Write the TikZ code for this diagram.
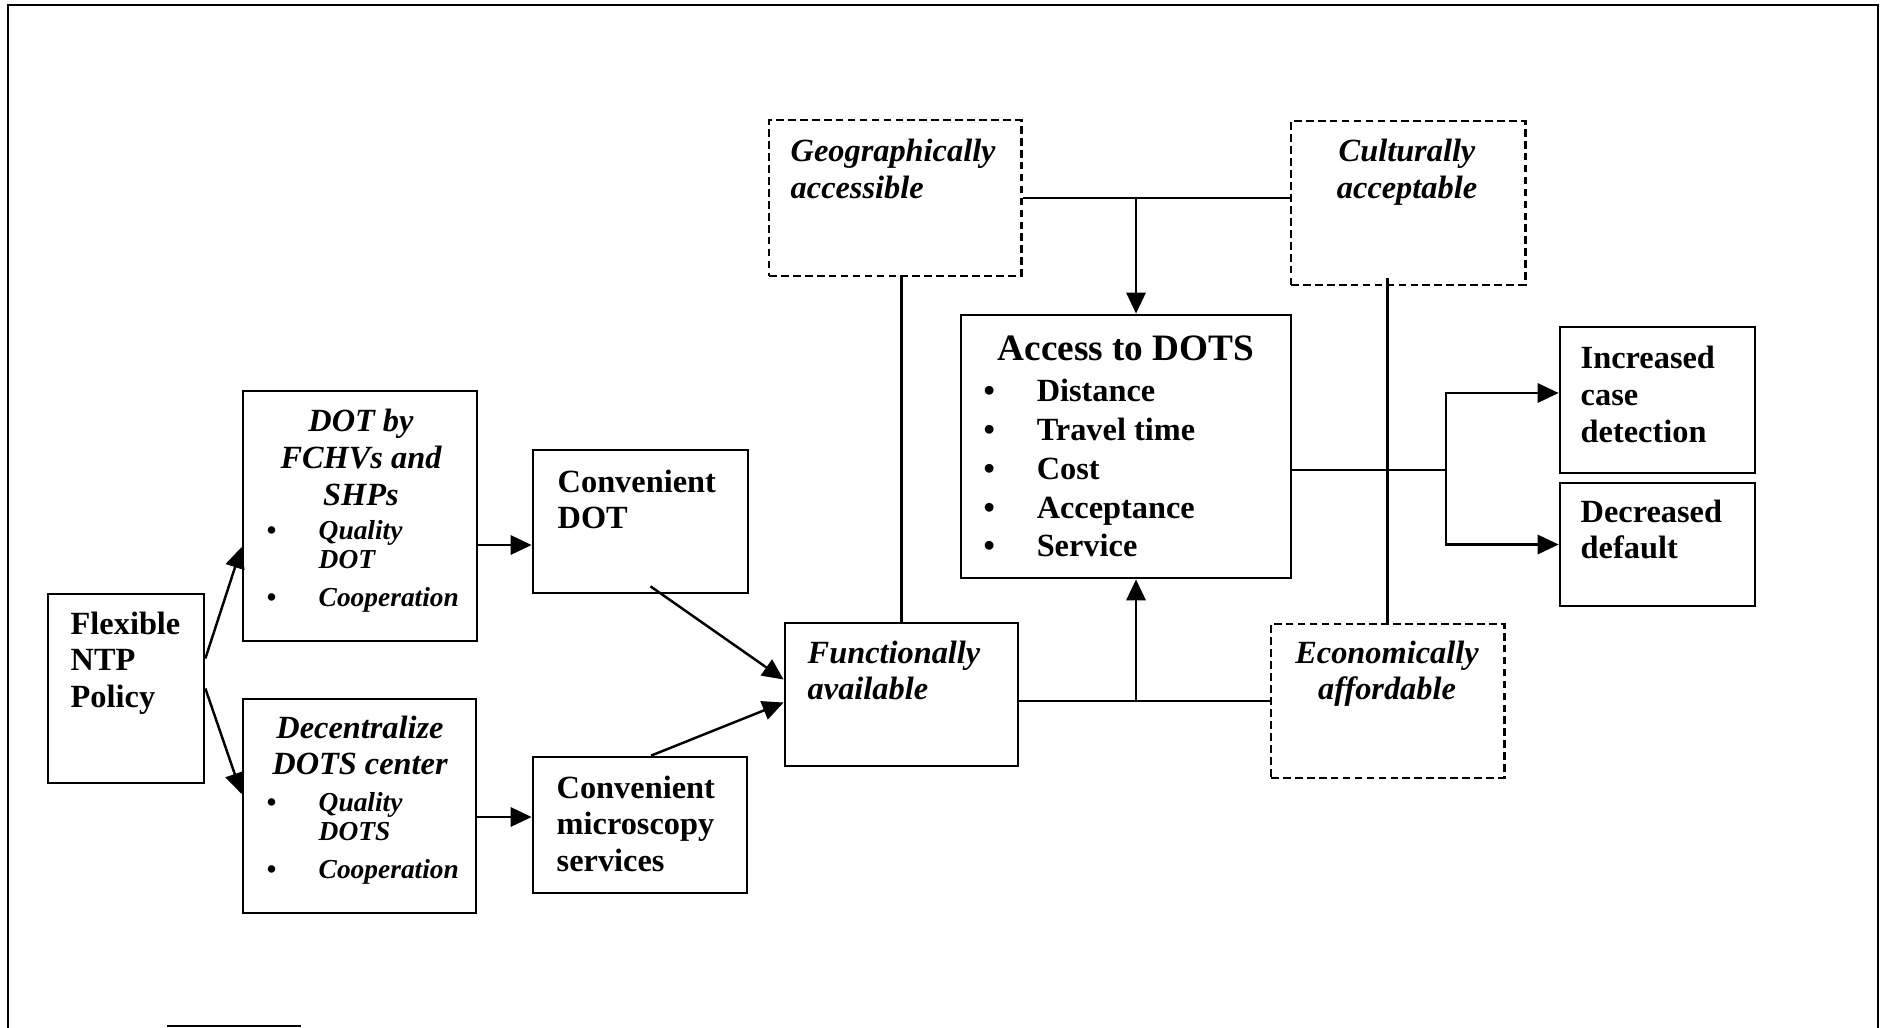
\documentclass[tikz,border=0pt]{standalone}
\usepackage{fontspec}
\setmainfont{Liberation Serif}
\usetikzlibrary{arrows.meta,calc}

\tikzset{
  box/.style={draw, line width=0.75pt, inner sep=0pt},
  dashbox/.style={box, line width=0.8pt, dash pattern=on 2.2pt off 1.2pt},
  txt/.style={inner sep=0pt, font=\fontsize{9.2}{10.4}\selectfont\bfseries},
  itxt/.style={txt, font=\fontsize{9.2}{10.4}\selectfont\bfseries\itshape},
  subtxt/.style={txt, font=\fontsize{7.8}{8.5}\selectfont\bfseries\itshape},
  link/.style={line width=0.7pt},
  arr/.style={link, -{Triangle[length=6pt,width=5.5pt]}}
}

\begin{document}
\begin{tikzpicture}[x=0.01cm, y=-0.01cm]
    \useasboundingbox (0,0) rectangle (1883,1028);
    % page frame
    \draw[line width=0.7pt] (8,1028) -- (8,5) -- (1878,5) -- (1878,1028);
    \draw[line width=0.7pt] (167,1026) -- (301,1026);

    % boxes
    \node[box, minimum width=1.56cm, minimum height=1.89cm] (flex) at (126,688.5) {};
    \node[box, minimum width=2.34cm, minimum height=2.50cm] (dotby) at (360,516) {};
    \node[box, minimum width=2.33cm, minimum height=2.14cm] (decen) at (359.5,806) {};
    \node[box, minimum width=2.15cm, minimum height=1.43cm] (cdot) at (640.5,521.5) {};
    \node[box, minimum width=2.14cm, minimum height=1.36cm] (cmic) at (640,825) {};
    \node[box, minimum width=2.33cm, minimum height=1.43cm] (func) at (901.5,694.5) {};
    \node[dashbox, minimum width=2.52cm, minimum height=1.56cm] (geo) at (895,198) {};
    \node[dashbox, minimum width=2.34cm, minimum height=1.64cm] (cult) at (1408,203) {};
    \node[box, minimum width=3.30cm, minimum height=2.63cm] (access) at (1126,446.5) {};
    \node[dashbox, minimum width=2.33cm, minimum height=1.54cm] (econ) at (1387.5,701) {};
    \node[box, minimum width=1.95cm, minimum height=1.46cm] (inc) at (1657.5,400) {};
    \node[box, minimum width=1.95cm, minimum height=1.23cm] (dec) at (1657.5,544.5) {};

    % texts
    \node[txt, anchor=base west] (flext) at (70,634) {\parbox[t]{1.3cm}{Flexible\\NTP\\Policy}};
    \node[itxt, anchor=base] (dotbyt) at (361,432) {\parbox[t]{2.3cm}{\centering DOT by\\FCHVs and\\SHPs}};
    \node[subtxt, anchor=base west] (dotbyl) at (266,539) {\parbox[t]{2.1cm}{\makebox[0.52cm][l]{\textbullet}Quality\\\hspace*{0.52cm}DOT\\[2.3pt]\makebox[0.52cm][l]{\textbullet}Cooperation}};
    \node[itxt, anchor=base] (decent) at (360,738) {\parbox[t]{2.3cm}{\centering Decentralize\\DOTS center}};
    \node[subtxt, anchor=base west] (decenl) at (266,811) {\parbox[t]{2.1cm}{\makebox[0.52cm][l]{\textbullet}Quality\\\hspace*{0.52cm}DOTS\\[2.3pt]\makebox[0.52cm][l]{\textbullet}Cooperation}};
    \node[txt, anchor=base west] (cdott) at (557,492) {\parbox[t]{1.8cm}{Convenient\\DOT}};
    \node[txt, anchor=base west] (cmict) at (556,798) {\parbox[t]{1.8cm}{Convenient\\microscopy\\services}};
    \node[itxt, anchor=base west] (funct) at (807,663) {\parbox[t]{2cm}{Functionally\\available}};
    \node[itxt, anchor=base west] (geot) at (790,162) {\parbox[t]{2.2cm}{Geographically\\accessible}};
    \node[itxt, anchor=base] (cultt) at (1407,162) {\parbox[t]{2.2cm}{\centering Culturally\\acceptable}};
    \node[itxt, anchor=base] (econt) at (1387,663) {\parbox[t]{2.2cm}{\centering Economically\\affordable}};
    \node[txt, anchor=base, font=\fontsize{10.6}{12}\selectfont\bfseries] (acct) at (1126,361) {Access to DOTS};
    \node[txt, anchor=base west, font=\fontsize{9.2}{11}\selectfont\bfseries] (accl) at (983,402) {\parbox[t]{2.6cm}{\makebox[0.53cm][l]{\textbullet}Distance\\\makebox[0.53cm][l]{\textbullet}Travel time\\\makebox[0.53cm][l]{\textbullet}Cost\\\makebox[0.53cm][l]{\textbullet}Acceptance\\\makebox[0.53cm][l]{\textbullet}Service}};
    \node[txt, anchor=base west] (inct) at (1580,369) {\parbox[t]{1.6cm}{Increased\\case\\detection}};
    \node[txt, anchor=base west] (dect) at (1580,522) {\parbox[t]{1.6cm}{Decreased\\default}};

    % connectors
    \draw[arr] ([yshift=3mm]flex.east) -- ([yshift=-3.1mm]dotby.west);
    \draw[arr] (flex.east) -- ([yshift=1.2mm]decen.west);
    \draw[arr] (dotby.east |- 0,545) -- (cdot.west |- 0,545);
    \draw[arr] (decen.east |- 0,817) -- (cmic.west |- 0,817);
    \draw[arr] ($(cdot.south)+(10,-8)$) -- ($(func.west)+(0,-15)$);
    \draw[arr] ($(cmic.north)+(11,0)$) -- ($(func.west)+(0,8)$);
    \draw[link] (func.north |- geo.south) -- (func.north);
    \draw[link] (geo.east) -- (geo.east -| cult.west);
    \coordinate (jt) at ($(access.north)+(10,0)$);
    \draw[arr] (jt |- geo.east) -- (jt);
    \draw[link] (func.east |- econ.west) -- (econ.west);
    \coordinate (jb) at ($(access.south)+(10,0)$);
    \draw[arr] (jb |- econ.west) -- (jb);
    \draw[link] (econ.north |- 0,278) -- (econ.north);
    \coordinate (split) at (1446,470);
    \draw[link] (access.east |- split) -- (split);
    \draw[arr] (split) |- ([yshift=0.7mm]inc.west);
    \draw[arr] (split) |- (dec.west);
\end{tikzpicture}
\end{document}
